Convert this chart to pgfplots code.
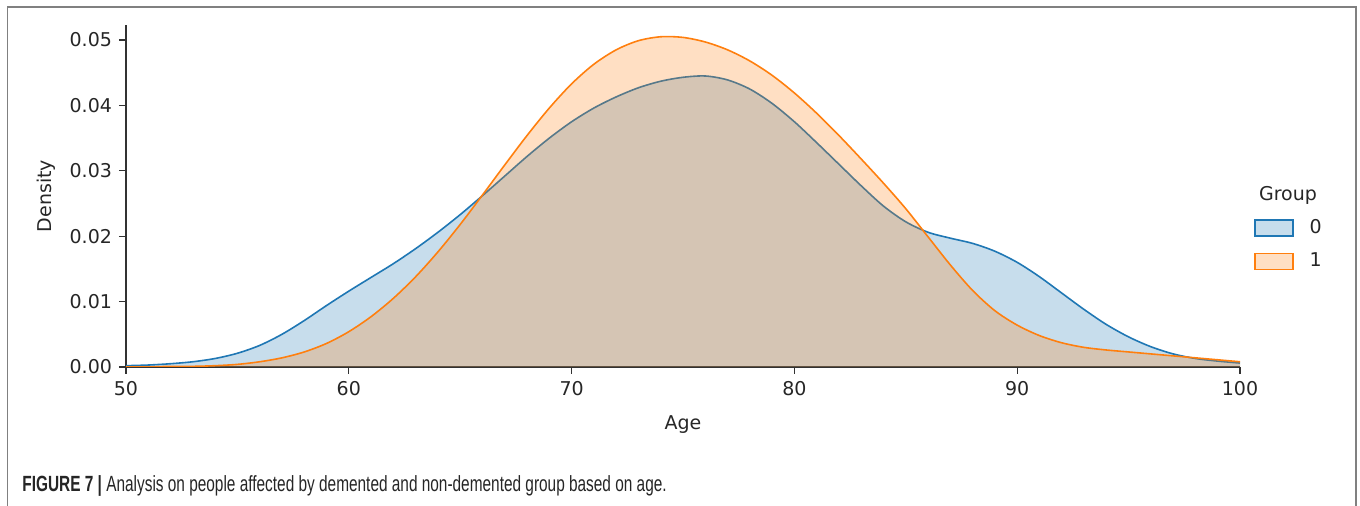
\documentclass[border=0pt]{standalone}
\usepackage{fontspec}
\setmainfont{DejaVu Sans}
\newfontfamily\capfont{Liberation Sans}[FakeStretch=0.70]
\usepackage{pgfplots}
\pgfplotsset{compat=1.18}
\definecolor{tabblue}{RGB}{31,119,180}
\definecolor{taborange}{RGB}{255,127,14}
\definecolor{framegray}{RGB}{128,128,128}
\definecolor{spine}{RGB}{50,50,50}
\definecolor{labelc}{RGB}{38,38,38}

\pgfplotstableread{
age dens
50 0.0002
51 0.0003
52 0.0005
53 0.0008
54 0.0013
55 0.0021
56 0.0033
57 0.0050
58 0.0071
59 0.0094
60 0.0116
61 0.0137
62 0.0158
63 0.0181
64 0.0206
65 0.0233
66 0.0262
67 0.0292
68 0.0322
69 0.0350
70 0.0375
71 0.0396
72 0.0413
73 0.0427
74 0.0437
75 0.0443
76 0.0445
77 0.0439
78 0.0425
79 0.0403
80 0.0375
81 0.0343
82 0.0310
83 0.0277
84 0.0246
85 0.0222
86 0.0206
87 0.0197
88 0.0189
89 0.0177
90 0.0160
91 0.0138
92 0.0113
93 0.0088
94 0.0065
95 0.0046
96 0.0031
97 0.0020
98 0.0013
99 0.0009
100 0.0006
}\groupzero

\pgfplotstableread{
age dens
50 0.0000
51 0.0000
52 0.0001
53 0.0001
54 0.0002
55 0.0004
56 0.0008
57 0.0014
58 0.0023
59 0.0036
60 0.0054
61 0.0077
62 0.0105
63 0.0138
64 0.0176
65 0.0218
66 0.0263
67 0.0309
68 0.0354
69 0.0396
70 0.0433
71 0.0463
72 0.0485
73 0.0499
74 0.0505
75 0.0504
76 0.0497
77 0.0485
78 0.0468
79 0.0446
80 0.0419
81 0.0388
82 0.0354
83 0.0318
84 0.0281
85 0.0242
86 0.0199
87 0.0156
88 0.0117
89 0.0086
90 0.0064
91 0.0048
92 0.0037
93 0.0030
94 0.0026
95 0.0023
96 0.0020
97 0.0017
98 0.0014
99 0.0011
100 0.0008
}\groupone

\begin{document}
\begin{tikzpicture}
\path[use as bounding box] (0,0) rectangle (680pt,-253pt);
\draw[framegray, line width=0.75pt] (3.75pt,-260pt) -- (3.75pt,-3.5pt) -- (678pt,-3.5pt) -- (678pt,-260pt);

\begin{axis}[
  at={(63pt,-183.5pt)}, anchor=south west,
  scale only axis, width=557pt, height=171pt,
  xmin=50, xmax=100, ymin=0, ymax=0.0523,
  clip mode=individual,
  axis x line*=bottom, axis y line*=left,
  axis line style={spine, line width=0.6pt},
  tick align=outside, major tick length=3.5pt,
  tick style={spine, line width=0.6pt},
  xtick={50,60,...,100},
  ytick={0,0.01,0.02,0.03,0.04,0.05},
  scaled y ticks=false,
  yticklabel style={/pgf/number format/.cd, fixed, fixed zerofill, precision=2},
  /pgf/number format/assume math mode=true,
  ticklabel style={font=\fontsize{9.5}{11}\selectfont, text=labelc},
  label style={font=\fontsize{9.5}{11}\selectfont, text=labelc},
  xlabel={Age}, ylabel={Density},
  xlabel style={yshift=-3pt},
  legend image code/.code={\draw[#1, line width=0.8pt] (0pt,-4pt) rectangle (19pt,4pt);},
  legend style={at={(1.0126,0.4327)}, anchor=north west, draw=none, fill=none,
    inner sep=0pt, outer sep=0pt, row sep=8pt,
    font=\fontsize{9.5}{11}\selectfont, text=labelc,
    nodes={inner sep=0pt},
    /tikz/every odd column/.append style={column sep=8pt}},
]
\addplot[forget plot, draw=none, fill=tabblue, fill opacity=0.25, smooth] table[x=age, y=dens] {\groupzero} \closedcycle;
\addplot[forget plot, tabblue, line width=0.8pt, smooth] table[x=age, y=dens] {\groupzero};
\addplot[forget plot, draw=none, fill=taborange, fill opacity=0.25, smooth] table[x=age, y=dens] {\groupone} \closedcycle;
\addplot[forget plot, taborange, line width=0.8pt, smooth] table[x=age, y=dens] {\groupone};
\addlegendimage{draw=tabblue, fill=tabblue, fill opacity=0.25}
\addlegendentry{0}
\addlegendimage{draw=taborange, fill=taborange, fill opacity=0.25}
\addlegendentry{1}
\node[font=\fontsize{9.5}{11}\selectfont, text=labelc] at (rel axis cs:1.0431,0.503) {Group};
\end{axis}

\node[anchor=base west, inner sep=0pt, font=\capfont\fontsize{11}{13}\selectfont, text=labelc] at (11pt,-246pt)
  {\textbf{FIGURE 7 |} Analysis on people affected by demented and non-demented group based on age.};
\end{tikzpicture}
\end{document}
